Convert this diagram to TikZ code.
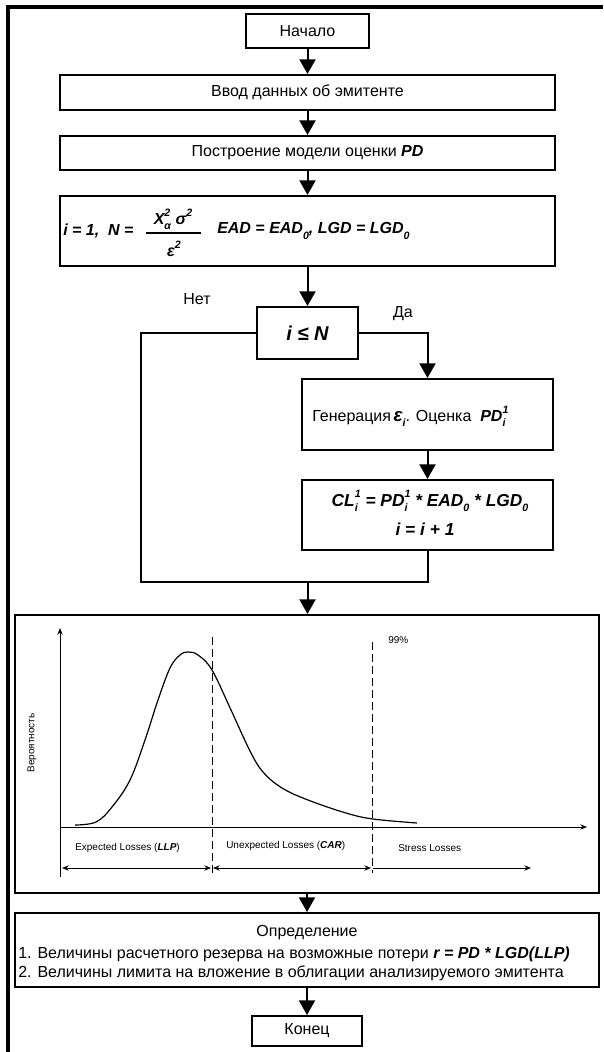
\documentclass[tikz,border=0pt]{standalone}
\usepackage{fontspec}
\setmainfont{Liberation Sans}
\usetikzlibrary{arrows.meta}
\newcommand\sbsp[2]{\rlap{\raisebox{0.5em}{\footnotesize #1}}\rlap{\raisebox{-0.32em}{\footnotesize #2}}\phantom{\footnotesize #1}}
\newcommand\supx[1]{\raisebox{0.5em}{\footnotesize #1}}
\newcommand\subx[1]{\raisebox{-0.32em}{\footnotesize #1}}
\begin{document}
\begin{tikzpicture}[x=0.75pt,y=-0.75pt,
  box/.style={draw,line width=1.5pt,inner sep=0pt,align=center,font=\fontsize{12}{14}\selectfont},
  conn/.style={line width=1.5pt},
  arr/.style={conn,-{Triangle[length=11pt,width=12pt]}},
  bi/.style={inner sep=0pt,font=\fontsize{12}{14}\selectfont\bfseries\itshape},
  bibig/.style={inner sep=0pt,font=\fontsize{13}{15}\selectfont\bfseries\itshape},
  txt/.style={inner sep=0pt,font=\fontsize{12}{14}\selectfont},
  small/.style={inner sep=0pt,font=\fontsize{7.5}{9}\selectfont},
  thinline/.style={line width=0.75pt},
  sarr/.style={thinline,-{Stealth[length=5pt,width=4pt]}},
  darr/.style={thinline,{Stealth[length=5pt,width=4pt]}-{Stealth[length=5pt,width=4pt]}},
  ]
\useasboundingbox (0,0) rectangle (603,1052);
% outer frame
\draw[line width=3pt] (8,1052) -- (8,7) -- (603,7);

% boxes
\node[box, minimum width=92.25pt, minimum height=25.5pt] (start) at (307.5,31) {Начало};
\node[box, minimum width=371.25pt, minimum height=26.25pt] (input) at (307.5,92.5) {Ввод данных об эмитенте};
\node[box, minimum width=371.25pt, minimum height=25.5pt] (model) at (307.5,153) {Построение модели оценки \textbf{\textit{PD}}};
\node[box, minimum width=371.25pt, minimum height=52.5pt] (init) at (307.5,231) {};
\node[bi, anchor=west] (initA) at (63,231) {i = 1,\ \ N =};
\node[bi] (num) at (173,219) {X\sbsp{2}{α}\,\,σ\supx{2}};
\node[bi] (den) at (174,249) {ε\supx{2}};
\draw[line width=0.8pt] (146,233) -- (201,233);
\node[bi, anchor=west] (initB) at (217,231) {EAD = EAD\subx{0}, LGD = LGD\subx{0}};

\node[box, minimum width=75.75pt, minimum height=39pt, font=\fontsize{15}{18}\selectfont\bfseries\itshape] (dec) at (307.5,333) {i ≤ N};
\node[txt] (no) at (197,299) {Нет};
\node[txt] (yes) at (403,314) {Да};

\node[box, minimum width=188.25pt, minimum height=53.25pt] (gen) at (427.5,414.5) {};
\node[txt, anchor=west] (genT) at (312,416) {Генерация\,{\bfseries\itshape\fontsize{14}{16}\selectfont ε}{\bfseries\itshape\subx{i}}. Оценка\ \ {\bfseries\itshape PD\sbsp{1}{i}}};

\node[box, minimum width=188.25pt, minimum height=52.5pt] (cl) at (427.5,515) {};
\node[bibig] (clA) at (430,501) {CL\sbsp{1}{i} = PD\sbsp{1}{i} * EAD\subx{0} * LGD\subx{0}};
\node[bibig] (clB) at (425,529) {i = i + 1};

\node[box, minimum width=438pt, minimum height=208.5pt] (chart) at (307,754) {};
\node[box, minimum width=438pt, minimum height=55.5pt] (res) at (307,950) {};
\node[txt] (resT) at (307,933) {Определение};
\node[txt, anchor=west] (res1) at (18,954) {1. Величины расчетного резерва на возможные потери \textbf{\textit{r = PD * LGD(LLP)}}};
\node[txt, anchor=west] (res2) at (18,973) {2. Величины лимита на вложение в облигации анализируемого эмитента};
\node[box, minimum width=82.5pt, minimum height=22.5pt] (end) at (307,1031) {Конец};

% connectors
\coordinate (jl) at (141,582);
\coordinate (jn) at (307.5,582);
\draw[arr] (start) -- (input);
\draw[arr] (input) -- (model);
\draw[arr] (model) -- (init);
\draw[arr] (init) -- (dec);
\draw[arr] (dec.east) -| (gen.north);
\draw[arr] (gen) -- (cl);
\draw[conn] (dec.west) -| (jl) -| (cl.south);
\draw[arr] (jn) -- (jn |- chart.north);
\draw[arr] (chart) -- (res);
\draw[arr] (res) -- (end);

% chart
\draw[sarr] (60,877) -- (60,628);
\draw[sarr] (60,827) -- (587,827);
\draw[line width=0.9pt] plot[smooth, tension=0.6] coordinates {(75,825) (96,822) (112,807) (130,780) (145,740) (158,700) (170,668) (180,655) (188,652) (198,655) (212,670) (231,710) (250,751) (263,772) (282,788) (308,800) (346,813) (373,819) (417,823)};
\draw[thinline, dash pattern=on 6pt off 3pt] (212,637) -- (212,873);
\draw[thinline, dash pattern=on 6pt off 3pt] (372,642) -- (372,873);
\draw[darr] (62,868) -- (211,868);
\draw[darr] (213,868) -- (371,868);
\draw[sarr] (373,868) -- (531,868);
\node[small, anchor=west] (l1) at (75,848) {Expected Losses (\textbf{\textit{LLP}})};
\node[small, anchor=west] (l2) at (226,846) {Unexpected Losses (\textbf{\textit{CAR}})};
\node[small, anchor=west] (l3) at (398,848) {Stress Losses};
\node[small, anchor=west] (p99) at (388,640) {99\%};
\node[small, rotate=90] (prob) at (32,743) {Вероятность};
\end{tikzpicture}
\end{document}
